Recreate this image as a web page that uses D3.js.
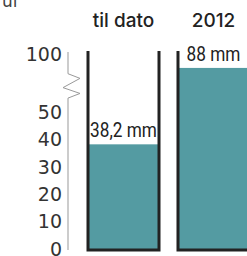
<!DOCTYPE html>
<html>
<head>
<meta charset="utf-8">
<script src="https://cdn.jsdelivr.net/npm/d3@7"></script>
<style>
  body { margin: 0; background: #fff; }
  svg { display: block; }
</style>
</head>
<body>
<svg id="chart" width="247" height="256"></svg>
<script>
// data
var categories = ["til dato", "2012"];
var values = [38.2, 88];
var valueLabels = ["38,2 mm", "88 mm"];
var tickValues = [0, 10, 20, 30, 40, 50, 100];

var width = 247, height = 256;
var svg = d3.select("#chart");

// broken y scale: 0-50 stretched, 50-100 squeezed
var y = d3.scaleLinear().domain([0, 50, 100]).range([249, 112, 54]);
var x = d3.scaleBand().domain(categories).range([88, 249]).paddingInner(0.211);

var fillColor = "#549ba2";
var wallColor = "#222";
var wallTop = 51;

// cut-off text at the top
svg.append("text")
  .attr("x", 2).attr("y", 7)
  .style("font-family", "DejaVu Sans").style("font-size", "17px")
  .style("fill", "#444")
  .text("ul");

// column headers
svg.selectAll(".head").data(categories).enter().append("text")
  .attr("class", "head")
  .attr("x", function(d) { return x(d) + x.bandwidth() / 2; })
  .attr("y", 27)
  .attr("text-anchor", "middle")
  .style("font-family", "Inter").style("font-weight", 500)
  .style("font-size", "19px").style("fill", "#222")
  .text(function(d) { return d; });

// axis line with break
var ax = 68;
var axisPath = d3.path();
axisPath.moveTo(ax, y(100) - 2);
axisPath.lineTo(ax, y(83));
axisPath.lineTo(ax + 12, y(79));
axisPath.lineTo(ax - 5, y(71));
axisPath.lineTo(ax + 12, y(66));
axisPath.lineTo(ax, y(62));
axisPath.lineTo(ax, y(0) + 1);
svg.append("path")
  .attr("d", axisPath.toString())
  .attr("fill", "none")
  .attr("stroke", "#999")
  .attr("stroke-width", 1);

// tick labels
svg.selectAll(".tick").data(tickValues).enter().append("text")
  .attr("class", "tick")
  .attr("x", 62)
  .attr("y", function(d) { return y(d); })
  .attr("dy", "0.36em")
  .attr("text-anchor", "end")
  .style("font-family", "DejaVu Sans").style("font-size", "19px")
  .style("fill", "#333")
  .text(function(d) { return d; });

// bars
var bars = svg.selectAll(".bar").data(values).enter().append("g").attr("class", "bar");

bars.append("rect")
  .attr("x", function(d, i) { return x(categories[i]); })
  .attr("y", function(d) { return y(d); })
  .attr("width", x.bandwidth())
  .attr("height", function(d) { return y(0) - y(d); })
  .attr("fill", fillColor);

// container walls
bars.append("path")
  .attr("d", function(d, i) {
    var x0 = x(categories[i]), x1 = x0 + x.bandwidth();
    return "M" + x0 + "," + wallTop + "V" + (y(0) + 1) + "H" + x1 + "V" + wallTop;
  })
  .attr("fill", "none")
  .attr("stroke", wallColor)
  .attr("stroke-width", 3);

// value labels (condensed look)
bars.append("text")
  .attr("transform", function(d, i) {
    var cx = x(categories[i]) + x.bandwidth() / 2;
    return "translate(" + cx + "," + (y(d) - 7) + ") scale(0.82,1)";
  })
  .attr("text-anchor", "middle")
  .style("font-family", "Roboto").style("font-size", "21px")
  .style("fill", "#222")
  .text(function(d, i) { return valueLabels[i]; });
</script>
</body>
</html>
